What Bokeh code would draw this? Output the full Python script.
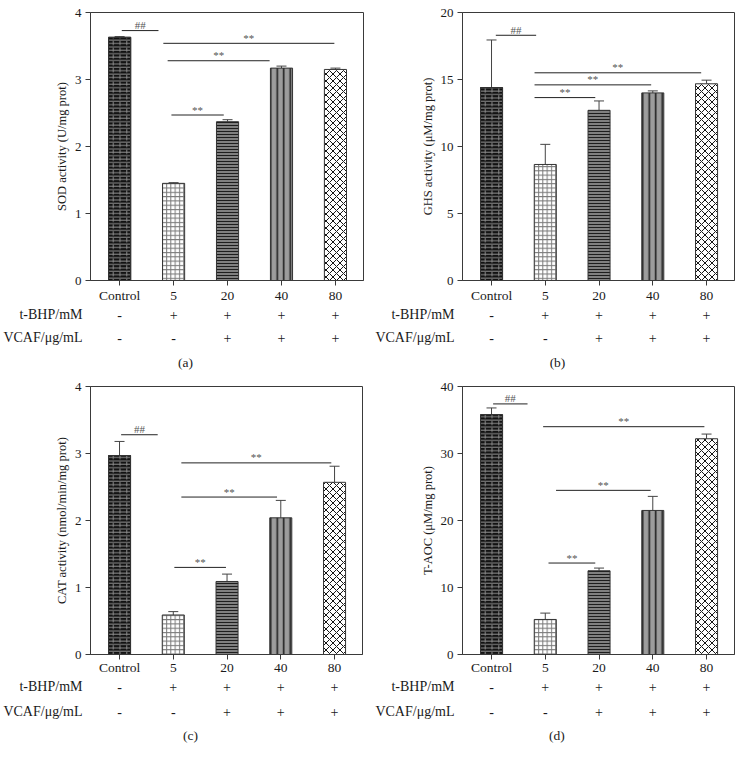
from bokeh.plotting import figure
from bokeh.models import (Range1d, ColumnDataSource, LabelSet, Whisker, TeeHead,
                          FixedTicker, CDSView, IndexFilter)
from bokeh.layouts import row, column
from bokeh.embed import file_html
from bokeh.resources import INLINE
from bokeh.core.properties import value

# ---------------- data ----------------
groups = ["Control", "5", "20", "40", "80"]
tbhp_signs = ["-", "+", "+", "+", "+"]
vcaf_signs = ["-", "-", "+", "+", "+"]
row_labels = ["t-BHP/mM", "VCAF/\u03bcg/mL"]

sod_mean = [3.63, 1.45, 2.37, 3.17, 3.15]
sod_err = [0.01, 0.01, 0.03, 0.03, 0.02]
ghs_mean = [14.4, 8.66, 12.7, 14.0, 14.68]
ghs_err = [3.55, 1.5, 0.7, 0.15, 0.27]
cat_mean = [2.97, 0.59, 1.09, 2.04, 2.57]
cat_err = [0.21, 0.05, 0.11, 0.26, 0.24]
taoc_mean = [35.8, 5.23, 12.5, 21.5, 32.2]
taoc_err = [1.0, 0.95, 0.4, 2.1, 0.7]

sig_text = ["##", "**", "**", "**"]
sod_sig_x0 = [0.04, 0.81, 0.89, 0.96]
sod_sig_x1 = [0.72, 3.98, 2.78, 1.93]
sod_sig_y = [3.73, 3.54, 3.28, 2.47]
ghs_sig_x0 = [0.08, 0.80, 0.80, 0.80]
ghs_sig_x1 = [0.83, 3.90, 2.97, 1.93]
ghs_sig_y = [18.3, 15.5, 14.6, 13.65]
cat_sig_x0 = [0.03, 1.15, 1.15, 1.02]
cat_sig_x1 = [0.71, 3.94, 2.93, 1.98]
cat_sig_y = [3.28, 2.86, 2.35, 1.30]
taoc_sig_x0 = [0.03, 0.96, 1.20, 1.06]
taoc_sig_x1 = [0.67, 3.96, 2.96, 1.93]
taoc_sig_y = [37.4, 34.0, 24.5, 13.65]

sod_ticks = [0, 1, 2, 3, 4]
ghs_ticks = [0, 5, 10, 15, 20]
cat_ticks = [0, 1, 2, 3, 4]
taoc_ticks = [0, 10, 20, 30, 40]

# ---------------- styles ----------------
FONT = "Liberation Serif"
TXT = "#1a1a1a"
bar_fill = ["#121212", "#ffffff", "#808080", "#9c9c9c", "#ffffff"]
bar_hatch = ["horizontal_line", "cross", "horizontal_line", "vertical_line", "diagonal_cross"]
bar_hatch_color = ["#8c8c8c", "#7a7a7a", "#1e1e1e", "#1e1e1e", "#141414"]
bar_hatch_scale = [3.4, 4.3, 3.0, 6.5, 7.0]
bar_hatch_weight = [1.0, 1.0, 1.0, 1.6, 1.0]

X0, X1 = -0.54, 4.52
FRAME_H = 268
W = 372


def panel(mean, err, sx0, sx1, sy, ticks, ylabel, caption, borders, chart_h, table_h,
          rows_y, cap_x, cap_y, standoff):
    left, right, top, bottom = borders
    ymax = ticks[-1]
    p = figure(width=W, height=chart_h, x_range=Range1d(X0, X1), y_range=Range1d(0, ymax),
               output_backend="svg", toolbar_location=None, title=None,
               min_border_left=left, min_border_right=right,
               min_border_top=top, min_border_bottom=bottom)
    frame_w = W - left - right
    ppu_x = frame_w / (X1 - X0)
    ppu_y = FRAME_H / ymax

    p.xgrid.visible = False
    p.ygrid.visible = False
    p.outline_line_color = "#3a3a3a"
    p.outline_line_width = 1

    xs = list(range(len(groups)))
    src = ColumnDataSource(dict(
        x=xs, top=mean, upper=[m + e for m, e in zip(mean, err)],
        fill=bar_fill, hatch=bar_hatch, hcol=bar_hatch_color,
        hscale=bar_hatch_scale, hweight=bar_hatch_weight))

    p.vbar(x="x", top="top", width=0.41, bottom=0, source=src,
           fill_color="fill", line_color="#333333", line_width=1,
           hatch_pattern="hatch", hatch_color="hcol", hatch_scale="hscale",
           hatch_weight="hweight")
    # brick verticals for the control bar
    p.vbar(x="x", top="top", width=0.41, bottom=0, source=src,
           view=CDSView(filter=IndexFilter([0])),
           fill_color=None, line_color="#333333", line_width=1,
           hatch_pattern="vertical_dash", hatch_color="#8c8c8c",
           hatch_scale=6.8, hatch_weight=1)

    wh = Whisker(base="x", lower="top", upper="upper", source=src, dimension="height",
                 line_color="#444444", line_width=1, lower_head=None,
                 upper_head=TeeHead(size=10, line_color="#444444", line_width=1))
    p.add_layout(wh)

    # significance brackets
    ssrc = ColumnDataSource(dict(
        x0=sx0, x1=sx1, y=sy, t=sig_text,
        xm=[(a + b) / 2 for a, b in zip(sx0, sx1)],
        yt=[v + 5.5 / ppu_y for v in sy]))
    p.segment(x0="x0", y0="y", x1="x1", y1="y", source=ssrc,
              line_color="#222222", line_width=1)
    p.add_layout(LabelSet(x="xm", y="yt", text="t", source=ssrc,
                          text_align="center", text_baseline="middle",
                          text_font=value(FONT), text_font_size=value("11px"),
                          text_color="#555555"))

    # axes
    p.xaxis.ticker = FixedTicker(ticks=xs)
    p.xaxis.major_label_overrides = {i: g for i, g in enumerate(groups)}
    p.yaxis.ticker = FixedTicker(ticks=ticks)
    for ax in (p.xaxis[0], p.yaxis[0]):
        ax.axis_line_color = "#3a3a3a"
        ax.major_tick_line_color = "#3a3a3a"
        ax.major_tick_in = 0
        ax.major_tick_out = 5
        ax.minor_tick_in = 0
        ax.minor_tick_out = 0
        ax.major_label_text_font = FONT
        ax.major_label_text_color = TXT
    p.xaxis.major_label_text_font_size = "13.5px"
    p.yaxis.major_label_text_font_size = "13px"
    p.xaxis.major_label_standoff = standoff
    p.yaxis.major_label_standoff = 4
    p.yaxis.axis_label = ylabel
    p.yaxis.axis_label_text_font = FONT
    p.yaxis.axis_label_text_font_style = "normal"
    p.yaxis.axis_label_text_font_size = "12.5px"
    p.yaxis.axis_label_text_color = TXT
    p.yaxis.axis_label_standoff = 3

    # treatment table under the chart: same frame and x scale as the chart,
    # row names are the tick labels of its left axis
    r1, r2 = rows_y
    t = figure(width=W, height=table_h, x_range=Range1d(X0, X1),
               y_range=Range1d(table_h, 0),
               output_backend="svg", toolbar_location=None, title=None,
               x_axis_type=None,
               min_border_left=left, min_border_right=right,
               min_border_top=0, min_border_bottom=0)
    t.xgrid.visible = False
    t.ygrid.visible = False
    t.outline_line_color = None
    ya = t.yaxis[0]
    ya.ticker = FixedTicker(ticks=[r1, r2])
    ya.major_label_overrides = {r1: row_labels[0], r2: row_labels[1]}
    ya.axis_line_color = None
    ya.major_tick_line_color = None
    ya.minor_tick_line_color = None
    ya.major_tick_out = 0
    ya.major_tick_in = 0
    ya.major_label_standoff = 8
    ya.major_label_text_font = FONT
    ya.major_label_text_font_size = "14px"
    ya.major_label_text_color = TXT

    tsrc = ColumnDataSource(dict(x=xs, y1=[r1] * 5, y2=[r2] * 5, t1=tbhp_signs, t2=vcaf_signs))
    for yy, tt in (("y1", "t1"), ("y2", "t2")):
        t.add_layout(LabelSet(x="x", y=yy, text=tt, source=tsrc,
                              text_align="center", text_baseline="middle",
                              text_font=value(FONT), text_font_size=value("14px"),
                              text_color=TXT))
    csrc = ColumnDataSource(dict(x=[X0 + cap_x / ppu_x], y=[cap_y], t=[caption]))
    t.add_layout(LabelSet(x="x", y="y", text="t", source=csrc,
                          text_align="center", text_baseline="middle",
                          text_font=value(FONT), text_font_size=value("13.5px"),
                          text_color=TXT))
    return column(p, t, spacing=0)


pa = panel(sod_mean, sod_err, sod_sig_x0, sod_sig_x1, sod_sig_y, sod_ticks,
           "SOD activity (U/mg prot)", "(a)", (90, 9, 12, 25), 305, 75,
           (9, 32), 95, 57, 2)
pb = panel(ghs_mean, ghs_err, ghs_sig_x0, ghs_sig_x1, ghs_sig_y, ghs_ticks,
           "GHS activity (\u03bcM/mg prot)", "(b)", (90, 10, 12, 25), 305, 75,
           (9, 32), 95, 57, 2)
pc = panel(cat_mean, cat_err, cat_sig_x0, cat_sig_x1, cat_sig_y, cat_ticks,
           "CAT activity (nmol/min/mg prot)", "(c)", (90, 10, 6, 23), 297, 83,
           (9, 34), 100, 58, 0)
pd = panel(taoc_mean, taoc_err, taoc_sig_x0, taoc_sig_x1, taoc_sig_y, taoc_ticks,
           "T-AOC (\u03bcM/mg prot)", "(d)", (88, 10, 6, 23), 297, 83,
           (9, 34), 95, 58, 0)

layout = column(row(pa, pb, spacing=0), row(pc, pd, spacing=0), spacing=0)
open("out.html", "w").write(file_html(layout, INLINE))
